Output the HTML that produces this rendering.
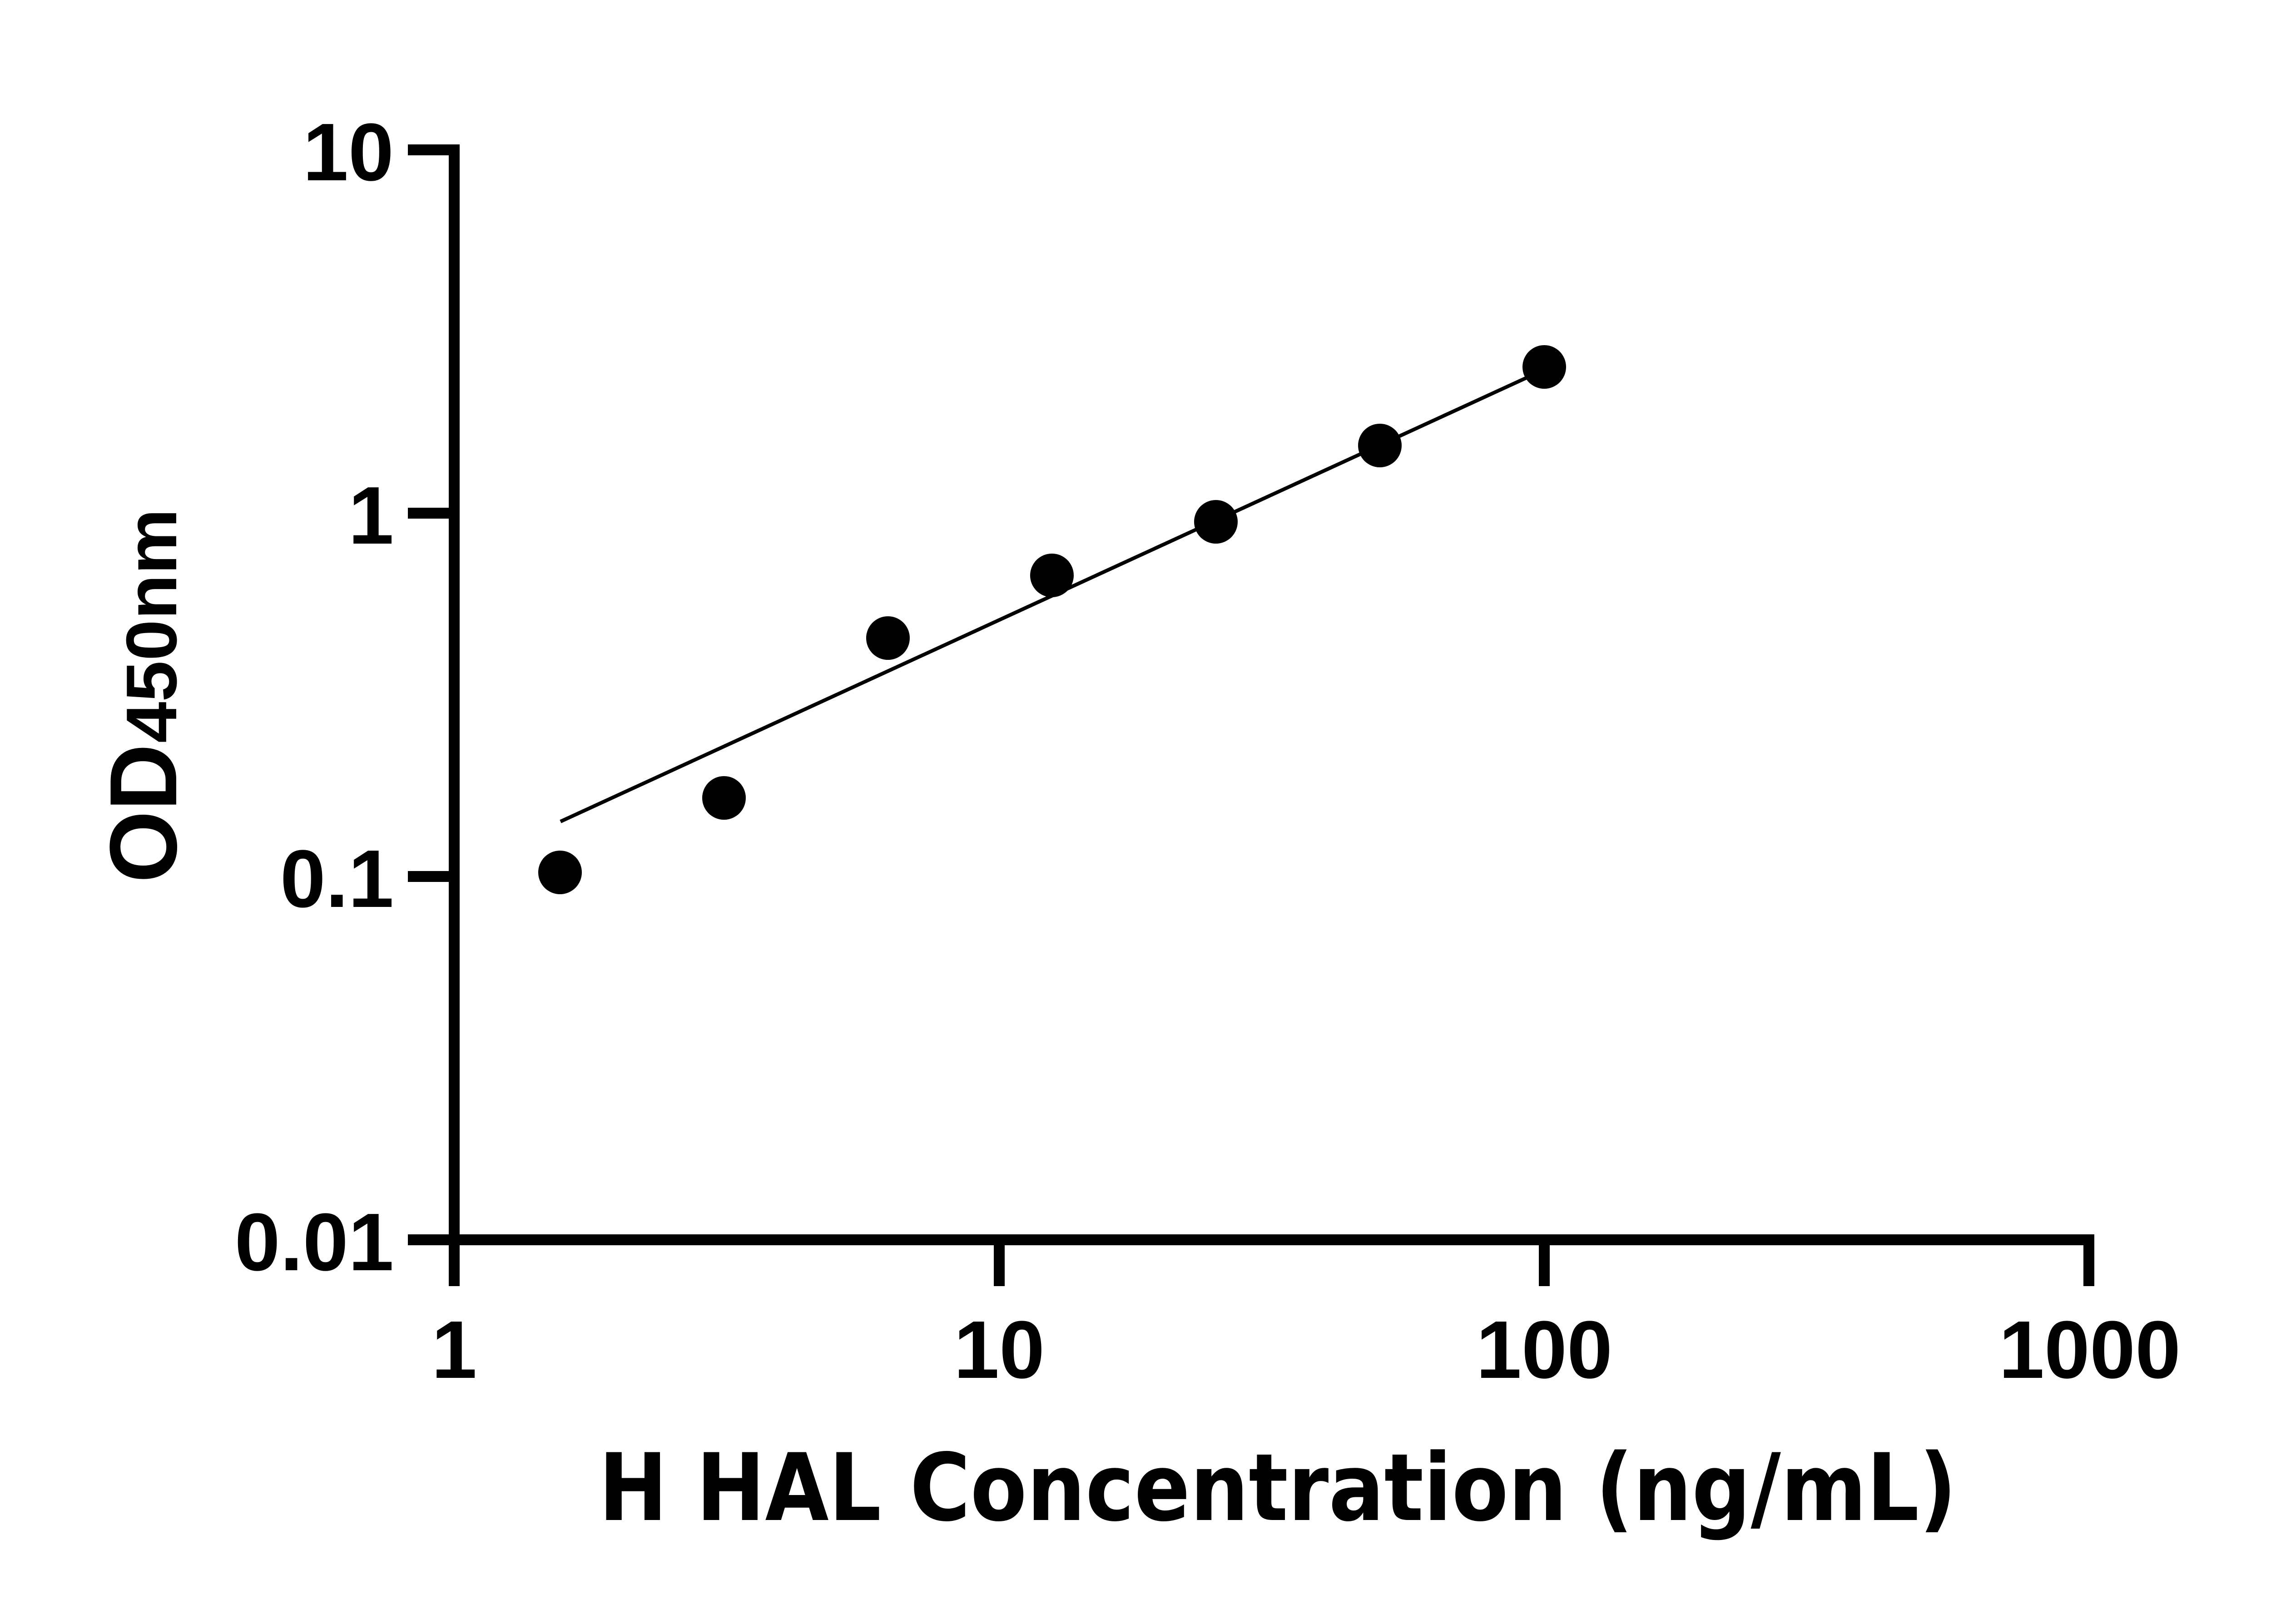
<!DOCTYPE html>
<html><head><meta charset="utf-8"><style>html,body{margin:0;padding:0;background:#fff}svg{display:block}
.lib{font-family:"Liberation Sans",Arial,sans-serif;font-weight:bold}
.dv{font-family:"DejaVu Sans",sans-serif;font-weight:bold}</style></head>
<body>
<svg width="5170" height="3576" viewBox="0 0 5170 3576" xmlns="http://www.w3.org/2000/svg">
<rect width="5170" height="3576" fill="#fff"/>
<g stroke="#000" stroke-width="24" fill="none">
<line x1="1000" y1="318" x2="1000" y2="2832"/>
<line x1="988" y1="2730" x2="4611" y2="2730"/>
<line x1="898" y1="330" x2="1012" y2="330"/>
<line x1="898" y1="1130" x2="1012" y2="1130"/>
<line x1="898" y1="1930" x2="1012" y2="1930"/>
<line x1="898" y1="2730" x2="1012" y2="2730"/>
<line x1="2200" y1="2730" x2="2200" y2="2832"/>
<line x1="3400" y1="2730" x2="3400" y2="2832"/>
<line x1="4599" y1="2718" x2="4599" y2="2832"/>
</g>
<line x1="1234" y1="1809" x2="3367" y2="829" stroke="#000" stroke-width="8"/>
<g fill="#000">
<circle cx="1233" cy="1921" r="48"/>
<circle cx="1594" cy="1757" r="48"/>
<circle cx="1955" cy="1405" r="48"/>
<circle cx="2316" cy="1267" r="48"/>
<circle cx="2677" cy="1149" r="48"/>
<circle cx="3038" cy="981" r="48"/>
<circle cx="3400" cy="808" r="48"/>
</g>
<g class="lib" font-size="180" fill="#000">
<text x="867" y="397" text-anchor="end">10</text>
<text x="867" y="1197" text-anchor="end">1</text>
<text x="867" y="1997" text-anchor="end">0.1</text>
<text x="867" y="2797" text-anchor="end">0.01</text>
<text x="1000" y="3034" text-anchor="middle">1</text>
<text x="2200" y="3034" text-anchor="middle">10</text>
<text x="3400" y="3034" text-anchor="middle">100</text>
<text x="4601" y="3034" text-anchor="middle">1000</text>
</g>
<text class="dv" x="1318" y="3347" font-size="205" textLength="2990" lengthAdjust="spacingAndGlyphs" fill="#000">H HAL Concentration (ng/mL)</text>
<g class="lib" transform="translate(388,1944) rotate(-90)" fill="#000">
<text x="0" y="0" font-size="210" textLength="306" lengthAdjust="spacingAndGlyphs">OD</text>
<text x="308" y="0" font-size="158" textLength="516" lengthAdjust="spacingAndGlyphs">450nm</text>
</g>
</svg>
</body></html>
